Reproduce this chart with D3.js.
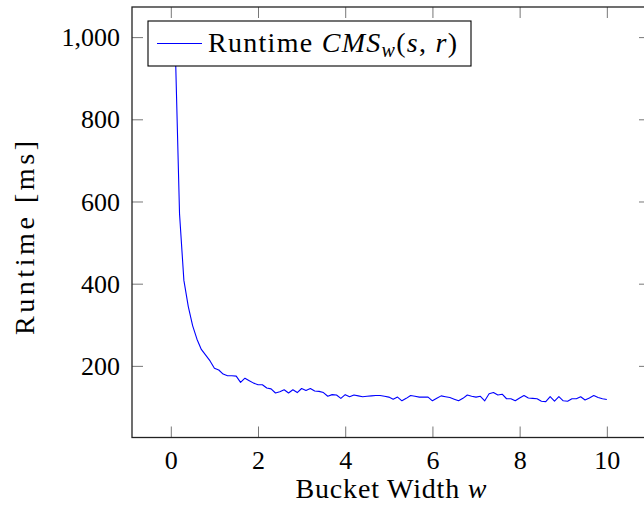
<!DOCTYPE html>
<html>
<head>
<meta charset="utf-8">
<script src="https://cdn.jsdelivr.net/npm/d3@7"></script>
<style>
  html, body { margin: 0; padding: 0; background: #fff; }
  svg { display: block; }
</style>
</head>
<body>
<svg id="chart" width="644" height="511"></svg>
<script>
// Bucket width w
const bucketWidth = [0.1,0.2,0.3,0.4,0.5,0.6,0.7,0.8,0.9,1.0,
  1.1,1.2,1.3,1.4,1.5,1.6,1.7,1.8,1.9,2.0,
  2.1,2.2,2.3,2.4,2.5,2.6,2.7,2.8,2.9,3.0,
  3.1,3.2,3.3,3.4,3.5,3.6,3.7,3.8,3.9,4.0,
  4.1,4.2,4.3,4.4,4.5,4.6,4.7,4.8,4.9,5.0,
  5.1,5.2,5.3,5.4,5.5,5.6,5.7,5.8,5.9,6.0,
  6.1,6.2,6.3,6.4,6.5,6.6,6.7,6.8,6.9,7.0,
  7.1,7.2,7.3,7.4,7.5,7.6,7.7,7.8,7.9,8.0,
  8.1,8.2,8.3,8.4,8.5,8.6,8.7,8.8,8.9,9.0,
  9.1,9.2,9.3,9.4,9.5,9.6,9.7,9.8,9.9,10.0];
// Runtime [ms]
const runtime = [986,570,408,345,298,265,240,226,212,194,
  190,180,176,176,175,160,170,164,158,154,
  154,146,144,134,137,142,134,142,135,145,
  140,145,139,138,135,126,130,129,121,130,
  125,129,127,125,126,127,128,128,126,124,
  119,124,115,121,128,126,124,124,124,115,
  121,127,125,123,119,115,121,129,126,124,
  126,115,132,135,129,131,120,120,115,122,
  128,122,121,120,114,113,125,114,125,115,
  114,120,120,125,117,122,128,123,120,118];
const xTicks = [0,2,4,6,8,10];
const yTicks = [200,400,600,800,1000];
const seriesName = "Runtime";

const FONT = "'Liberation Serif', 'Times New Roman', serif";
const svg = d3.select("#chart");
const L = 132, R = 650, T = 7, B = 437.5;

function enlarge(ext, f) { const d = (ext[1]-ext[0])*f; return [ext[0]-d, ext[1]+d]; }
const x = d3.scaleLinear().domain(enlarge(d3.extent(bucketWidth), 0.1)).range([L, R]);
const y = d3.scaleLinear().domain(enlarge(d3.extent(runtime), 0.1)).range([B, T]);

const FS = 26;   // tick labels
const LFS = 28;  // labels / legend
const tickLen = 11;

// bottom axis
const xb = svg.append("g").attr("transform", `translate(0,${B})`)
  .call(d3.axisBottom(x).tickValues(xTicks).tickSize(-tickLen).tickPadding(0).tickFormat(d3.format("d")));
xb.select(".domain").remove();
xb.selectAll(".tick line").attr("stroke", "#777");
xb.selectAll(".tick text").style("font-family", FONT).style("font-size", FS + "px")
  .attr("fill", "#000").attr("y", 31).attr("dy", 0);

// top ticks
const xt = svg.append("g").attr("transform", `translate(0,${T})`)
  .call(d3.axisTop(x).tickValues(xTicks).tickSize(-tickLen).tickFormat(""));
xt.select(".domain").remove();
xt.selectAll(".tick line").attr("stroke", "#777");

// left axis
const yl = svg.append("g").attr("transform", `translate(${L},0)`)
  .call(d3.axisLeft(y).tickValues(yTicks).tickSize(-tickLen).tickPadding(12).tickFormat(d3.format(",")));
yl.select(".domain").remove();
yl.selectAll(".tick line").attr("stroke", "#777");
yl.selectAll(".tick text").style("font-family", FONT).style("font-size", FS + "px")
  .attr("fill", "#000").attr("dy", "0.33em");

// right ticks
const yr = svg.append("g").attr("transform", `translate(${R},0)`)
  .call(d3.axisRight(y).tickValues(yTicks).tickSize(-tickLen).tickFormat(""));
yr.select(".domain").remove();
yr.selectAll(".tick line").attr("stroke", "#777");

// line
const line = d3.line().x((d, i) => x(bucketWidth[i])).y(d => y(d));
svg.append("path").datum(runtime)
  .attr("d", line).attr("fill", "none").attr("stroke", "#0000ff").attr("stroke-width", 1.1)
  .attr("stroke-linejoin", "round");

// frame
svg.append("rect").attr("x", L).attr("y", T).attr("width", R - L).attr("height", B - T)
  .attr("fill", "none").attr("stroke", "#222").attr("stroke-width", 1.3);

// legend
const lg = svg.append("g");
lg.append("rect").attr("x", 148).attr("y", 21).attr("width", 323).attr("height", 45)
  .attr("fill", "#fff").attr("stroke", "#000").attr("stroke-width", 1.1);
lg.append("line").attr("x1", 157).attr("x2", 202).attr("y1", 43.5).attr("y2", 43.5)
  .attr("stroke", "#0000ff").attr("stroke-width", 1.1);
const lt = lg.append("text").attr("x", 208).attr("y", 52)
  .style("font-family", FONT).style("font-size", LFS + "px").attr("fill", "#000")
  .attr("textLength", 249).attr("lengthAdjust", "spacing");
lt.append("tspan").text(seriesName + " ");
lt.append("tspan").style("font-style", "italic").text("CMS");
lt.append("tspan").style("font-style", "italic").style("font-size", "20px").attr("dy", 5).text("w");
lt.append("tspan").attr("dy", -5).text("(");
lt.append("tspan").style("font-style", "italic").text("s");
lt.append("tspan").text(", ");
lt.append("tspan").style("font-style", "italic").text("r");
lt.append("tspan").text(")");

// axis labels
svg.append("text").attr("x", (L + R) / 2).attr("y", 498).attr("text-anchor", "middle")
  .style("font-family", FONT).style("font-size", LFS + "px").attr("fill", "#000")
  .attr("textLength", 191).attr("lengthAdjust", "spacing")
  .call(t => { t.append("tspan").text("Bucket Width "); t.append("tspan").style("font-style", "italic").text("w"); });
svg.append("text").attr("transform", "translate(34,238) rotate(-90)").attr("text-anchor", "middle")
  .style("font-family", FONT).style("font-size", LFS + "px").attr("fill", "#000")
  .attr("textLength", 194).attr("lengthAdjust", "spacing")
  .text("Runtime [ms]");
</script>
</body>
</html>
